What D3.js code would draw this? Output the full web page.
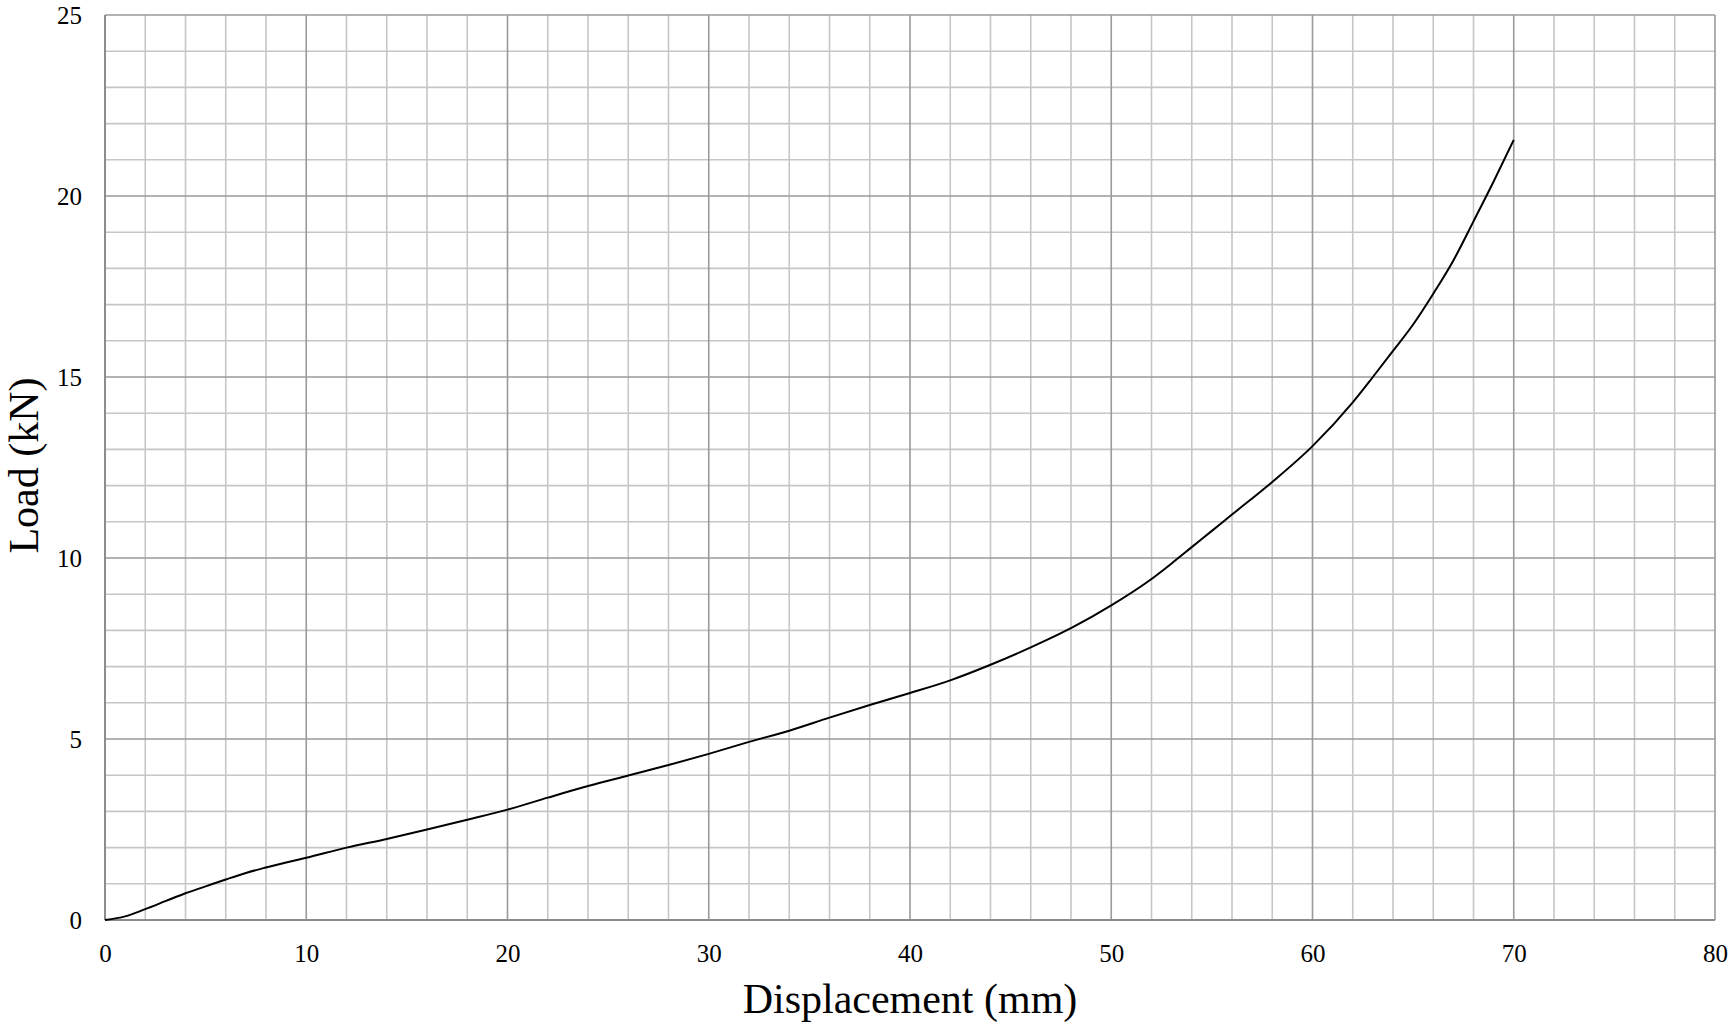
<!DOCTYPE html>
<html>
<head>
<meta charset="utf-8">
<script src="https://cdn.jsdelivr.net/npm/d3@7"></script>
<style>
  html, body { margin: 0; padding: 0; background: #fff; }
  svg { display: block; }
  text { font-family: "Liberation Serif", "Times New Roman", serif; fill: #000; }
</style>
</head>
<body>
<svg id="chart" width="1733" height="1029"></svg>
<script>
// Data
const displacement = [0, 1, 2, 3, 4, 5, 6, 7, 8, 9, 10, 12, 14, 16, 18, 20, 22, 24, 26, 28, 30, 32, 34, 36, 38, 40, 42, 44, 46, 48, 50, 52, 53, 54, 55, 56, 58, 60, 62, 63, 64, 65, 66, 67, 68, 69, 70];
const load = [0, 0.1, 0.3, 0.52, 0.74, 0.93, 1.12, 1.3, 1.45, 1.59, 1.72, 2.0, 2.24, 2.5, 2.77, 3.05, 3.38, 3.70, 3.99, 4.28, 4.59, 4.92, 5.23, 5.59, 5.94, 6.27, 6.62, 7.05, 7.53, 8.06, 8.69, 9.42, 9.85, 10.3, 10.75, 11.2, 12.1, 13.09, 14.3, 15.0, 15.72, 16.45, 17.3, 18.22, 19.3, 20.4, 21.55];
const xTicks = [0, 10, 20, 30, 40, 50, 60, 70, 80];
const yTicks = [0, 5, 10, 15, 20, 25];
const xMinor = d3.range(0, 81, 2);
const yMinor = d3.range(0, 26, 1);
const xTitle = "Displacement (mm)";
const yTitle = "Load (kN)";

const svg = d3.select("#chart");
const L = 105, R = 1715, T = 15, B = 920;
const x = d3.scaleLinear().domain([0, 80]).range([L, R]);
const y = d3.scaleLinear().domain([0, 25]).range([B, T]);

// minor grid
const g = svg.append("g");
g.selectAll("line.vmin").data(xMinor.filter(d => d % 10 !== 0)).enter().append("line")
  .attr("x1", d => x(d)).attr("x2", d => x(d)).attr("y1", T).attr("y2", B)
  .attr("stroke", "#c6c6c6").attr("stroke-width", 1.6);
g.selectAll("line.hmin").data(yMinor.filter(d => d % 5 !== 0)).enter().append("line")
  .attr("x1", L).attr("x2", R).attr("y1", d => y(d)).attr("y2", d => y(d))
  .attr("stroke", "#c6c6c6").attr("stroke-width", 1.6);
// major grid
g.selectAll("line.vmaj").data(xTicks).enter().append("line")
  .attr("x1", d => x(d)).attr("x2", d => x(d)).attr("y1", T).attr("y2", B)
  .attr("stroke", "#9a9a9a").attr("stroke-width", 1.6);
g.selectAll("line.hmaj").data(yTicks).enter().append("line")
  .attr("x1", L).attr("x2", R).attr("y1", d => y(d)).attr("y2", d => y(d))
  .attr("stroke", "#9a9a9a").attr("stroke-width", 1.6);

// axes lines
svg.append("line").attr("x1", L).attr("x2", R).attr("y1", B).attr("y2", B)
  .attr("stroke", "#8c8c8c").attr("stroke-width", 2);
svg.append("line").attr("x1", L).attr("x2", L).attr("y1", T).attr("y2", B)
  .attr("stroke", "#8c8c8c").attr("stroke-width", 2);

// axes via d3
const xAxis = d3.axisBottom(x).tickValues(xTicks).tickSize(0).tickPadding(0).tickFormat(d3.format("d"));
const yAxis = d3.axisLeft(y).tickValues(yTicks).tickSize(0).tickPadding(0).tickFormat(d3.format("d"));
const xa = svg.append("g").attr("transform", `translate(0,${B})`).call(xAxis);
xa.select(".domain").remove();
xa.selectAll("text").attr("font-size", 25).attr("font-family", "Liberation Serif").attr("fill", "#000")
  .attr("dy", null).attr("y", 42);
const ya = svg.append("g").attr("transform", `translate(${L},0)`).call(yAxis);
ya.select(".domain").remove();
ya.selectAll("text").attr("font-size", 25).attr("font-family", "Liberation Serif").attr("fill", "#000")
  .attr("x", -23).attr("dy", "0.32em");

// curve
const pts = displacement.map((d, i) => [d, load[i]]);
const line = d3.line().x(d => x(d[0])).y(d => y(d[1])).curve(d3.curveMonotoneX);
svg.append("path").datum(pts).attr("d", line)
  .attr("fill", "none").attr("stroke", "#000").attr("stroke-width", 2);

// titles
svg.append("text").attr("x", (L + R) / 2).attr("y", 1013).attr("text-anchor", "middle")
  .attr("font-size", 42).text(xTitle);
svg.append("text").attr("transform", `translate(38,${(T + B) / 2 - 2}) rotate(-90)`)
  .attr("text-anchor", "middle").attr("font-size", 42).text(yTitle);
</script>
</body>
</html>
